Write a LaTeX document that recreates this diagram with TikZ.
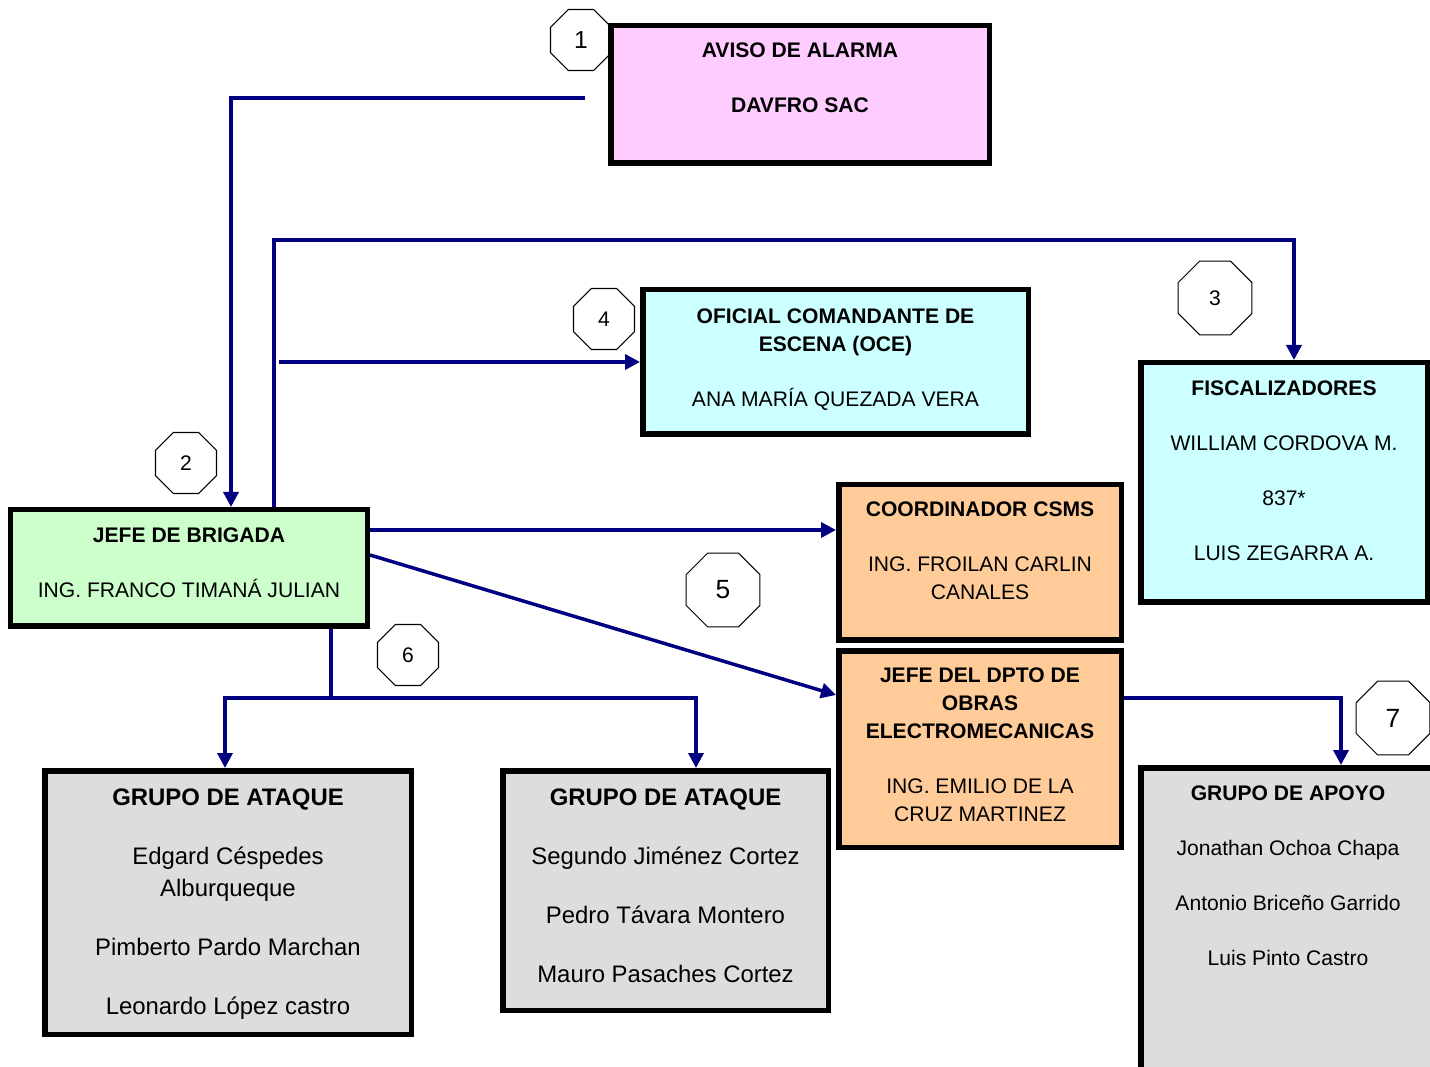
\documentclass[tikz,border=0pt]{standalone}
\usepackage{fontspec}
\setmainfont{Liberation Sans}
\usepackage{tikz}
\usetikzlibrary{arrows.meta,positioning,shapes.geometric}
\usepackage{xcolor}

\definecolor{rosa}{HTML}{FFCCFF}
\definecolor{verde}{HTML}{CCFFCC}
\definecolor{celeste}{HTML}{CCFFFF}
\definecolor{durazno}{HTML}{FFCC99}
\definecolor{gris}{HTML}{DDDDDD}
\definecolor{azul}{HTML}{000080}

\begin{document}
\begin{tikzpicture}[
block/.style={rectangle,draw,line width=1.1mm,inner sep=0pt},
txt/.style={align=center,inner sep=0pt,font=\fontsize{12}{15.9}\selectfont},
txtl/.style={txt,font=\fontsize{13.6}{18.2}\selectfont},
num/.style={regular polygon,regular polygon sides=8,draw,line width=0.6pt,fill=white,inner sep=0pt,minimum size=1.32cm,font=\fontsize{12}{14}\selectfont},
numl/.style={num,minimum size=1.6cm,font=\fontsize{15}{18}\selectfont},
paths/.style={-{Triangle[length=3mm,width=3mm]},line width=0.7mm,azul},
]
\clip (0,0) rectangle (28.6,21.32);

% pasos numerados
\node [num,font=\fontsize{14}{16}\selectfont] (n1) at (11.62,20.52) {1};
\node [num] (n2) at (3.72,12.06) {2};
\node [numl,font=\fontsize{12}{14}\selectfont] (n3) at (24.30,15.36) {3};
\node [num] (n4) at (12.08,14.94) {4};
\node [numl] (n5) at (14.46,9.52) {5};
\node [num] (n6) at (8.16,8.22) {6};
\node [numl] (n7) at (27.86,6.96) {7};

% cajas
\node [block,fill=rosa,minimum width=7.57cm,minimum height=2.75cm] (aviso) at (16.00,19.43) {};
\node [block,fill=verde,minimum width=7.13cm,minimum height=2.33cm] (brigada) at (3.78,9.96) {};
\node [block,fill=celeste,minimum width=7.71cm,minimum height=2.89cm] (oce) at (16.71,14.08) {};
\node [block,fill=celeste,minimum width=5.73cm,minimum height=4.79cm] (fisc) at (25.68,11.67) {};
\node [block,fill=durazno,minimum width=5.65cm,minimum height=3.11cm] (coord) at (19.60,10.07) {};
\node [block,fill=durazno,minimum width=5.65cm,minimum height=3.93cm] (dpto) [below=0.1cm of coord] {};
\node [block,fill=gris,minimum width=7.33cm,minimum height=5.27cm] (ataque1) at (4.56,3.27) {};
\node [block,fill=gris,minimum width=6.51cm,minimum height=4.79cm] (ataque2) at (13.31,3.51) {};
\node [block,fill=gris,minimum width=5.89cm,minimum height=6.39cm] (apoyo) at (25.76,2.77) {};

% textos
\node [txt] (aviso-t) [below=0.39cm of aviso.north]
  {\textbf{AVISO DE ALARMA}\\[5.4mm]\textbf{DAVFRO SAC}};
\node [txt] (brigada-t) [below=0.41cm of brigada.north]
  {\textbf{JEFE DE BRIGADA}\\[5.4mm]ING. FRANCO TIMANÁ JULIAN};
\node [txt] (oce-t) [below=0.43cm of oce.north]
  {\textbf{OFICIAL COMANDANTE DE}\\\textbf{ESCENA (OCE)}\\[5.4mm]ANA MARÍA QUEZADA VERA};
\node [txt] (fisc-t) [below=0.41cm of fisc.north]
  {\textbf{FISCALIZADORES}\\[5.4mm]WILLIAM CORDOVA M.\\[5.4mm]837*\\[5.4mm]LUIS ZEGARRA A.};
\node [txt] (coord-t) [below=0.39cm of coord.north]
  {\textbf{COORDINADOR CSMS}\\[5.4mm]ING. FROILAN CARLIN\\CANALES};
\node [txt] (dpto-t) [below=0.39cm of dpto.north]
  {\textbf{JEFE DEL DPTO DE}\\\textbf{OBRAS}\\\textbf{ELECTROMECANICAS}\\[5.4mm]ING. EMILIO DE LA\\CRUZ MARTINEZ};
\node [txtl] (ataque1-t) [below=0.41cm of ataque1.north]
  {\textbf{GRUPO DE ATAQUE}\\[5.4mm]Edgard Céspedes\\Alburqueque\\[5.4mm]Pimberto Pardo Marchan\\[5.4mm]Leonardo López castro};
\node [txtl] (ataque2-t) [below=0.41cm of ataque2.north]
  {\textbf{GRUPO DE ATAQUE}\\[5.4mm]Segundo Jiménez Cortez\\[5.4mm]Pedro Távara Montero\\[5.4mm]Mauro Pasaches Cortez};
\node [txt] (apoyo-t) [below=0.41cm of apoyo.north]
  {\textbf{GRUPO DE APOYO}\\[5.4mm]Jonathan Ochoa Chapa\\[5.4mm]Antonio Briceño Garrido\\[5.4mm]Luis Pinto Castro};

% conexiones
\coordinate (alarma) at ([xshift=-0.46cm,yshift=-0.07cm]aviso.west);
\coordinate (rama) at ([xshift=1.7cm]brigada.north);
\coordinate (reparto) at ([xshift=2.84cm,yshift=-1.38cm]brigada.south);

\draw [paths] (alarma) -| ([xshift=0.84cm]brigada.north);
\draw [paths] (rama) -- ++(0,5.34) -| ([xshift=0.2cm]fisc.north);
\draw [paths] (rama |- oce.west) ++(0.1,0) -- (oce.west);
\draw [paths] ([yshift=0.76cm]brigada.east) -- ([yshift=0.65cm]coord.west);
\draw [paths] ([yshift=0.26cm]brigada.east) -- ([yshift=1.08cm]dpto.west);
\draw [paths,-] ([xshift=2.84cm]brigada.south) -- (reparto);
\draw [paths] (reparto) -| ([xshift=-0.06cm]ataque1.north);
\draw [paths] (reparto) -| ([xshift=0.61cm]ataque2.north);
\draw [paths] ([yshift=1.02cm]dpto.east) -| ([xshift=1.06cm]apoyo.north);

\end{tikzpicture}
\end{document}
